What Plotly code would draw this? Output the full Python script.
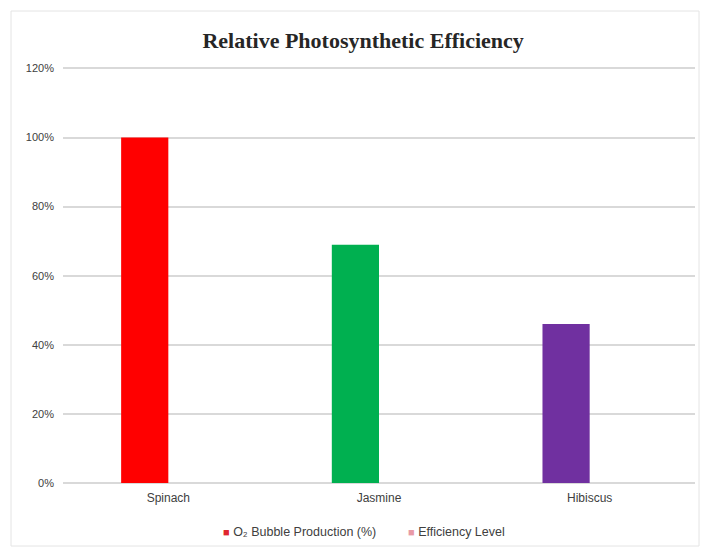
import plotly.graph_objects as go

# Plant species and their relative O2 bubble production (fraction of spinach)
plants = ["Spinach", "Jasmine", "Hibiscus"]
o2_production = [1.00, 0.69, 0.46]
efficiency_level = [None, None, None]
bar_colors = ["#FF0000", "#00B050", "#7030A0"]
series_names = ["O\u2082 Bubble Production (%)", "Efficiency Level"]
legend_colors = ["#E0262E", "#E89AA6"]

y_ticks = [0, 0.2, 0.4, 0.6, 0.8, 1.0, 1.2]
y_tick_labels = ["0%", "20%", "40%", "60%", "80%", "100%", "120%"]

W, H = 712, 550
M_L, M_R, M_T, M_B = 63, 17, 65, 67
Y_MAX = 1.21

fig = go.Figure()
fig.add_trace(go.Bar(
    x=plants, y=o2_production, name=series_names[0], showlegend=False,
    marker=dict(color=bar_colors, line=dict(width=0)),
))
fig.add_trace(go.Bar(
    x=plants, y=efficiency_level, name=series_names[1], showlegend=False,
    marker=dict(color=legend_colors[1], line=dict(width=0)),
))

pw = W - M_L - M_R
ph = H - M_T - M_B
def px_x(v):
    return (v - M_L) / pw
def px_y(v):
    return (H - M_B - v) / ph

# legend row: small square key followed by the series name
legend_x = [221, 406]
for name, color, lx in zip(series_names, legend_colors, legend_x):
    fig.add_annotation(
        xref="paper", yref="paper", x=px_x(lx), y=px_y(532),
        xanchor="left", yanchor="middle", showarrow=False,
        text=f'<span style="color:{color};font-size:11px">\u25A0</span> {name}',
        font=dict(family="Liberation Sans", size=12.5, color="#404040"),
    )

# light outer frame around the whole chart
fig.add_shape(type="rect", xref="paper", yref="paper",
              x0=px_x(11), x1=px_x(699), y0=px_y(11), y1=px_y(546),
              line=dict(color="#E4E4E4", width=1), fillcolor="rgba(0,0,0,0)",
              layer="below")

fig.update_layout(
    width=W, height=H,
    margin=dict(l=M_L, r=M_R, t=M_T, b=M_B, autoexpand=False),
    paper_bgcolor="white", plot_bgcolor="white",
    barmode="group", bargap=0.552, bargroupgap=0,
    title=dict(text="<b>Relative Photosynthetic Efficiency</b>",
               x=0.51, xanchor="center", y=1 - 40 / H, yanchor="middle",
               font=dict(family="Liberation Serif", size=22, color="#262626")),
    font=dict(family="Liberation Sans", size=11, color="#404040"),
    xaxis=dict(showgrid=False, showline=False, ticks="", automargin=False,
               tickfont=dict(size=12, color="#404040"), ticklabelstandoff=6),
    yaxis=dict(range=[0, Y_MAX], tickvals=y_ticks, ticktext=y_tick_labels,
               showgrid=True, gridcolor="#D9D9D9", gridwidth=1.5,
               zeroline=True, zerolinecolor="#D9D9D9", zerolinewidth=1.5,
               showline=False, ticks="", ticklabelstandoff=8, automargin=False,
               tickfont=dict(size=11, color="#404040")),
    showlegend=False,
)

fig.write_html("out.html")
